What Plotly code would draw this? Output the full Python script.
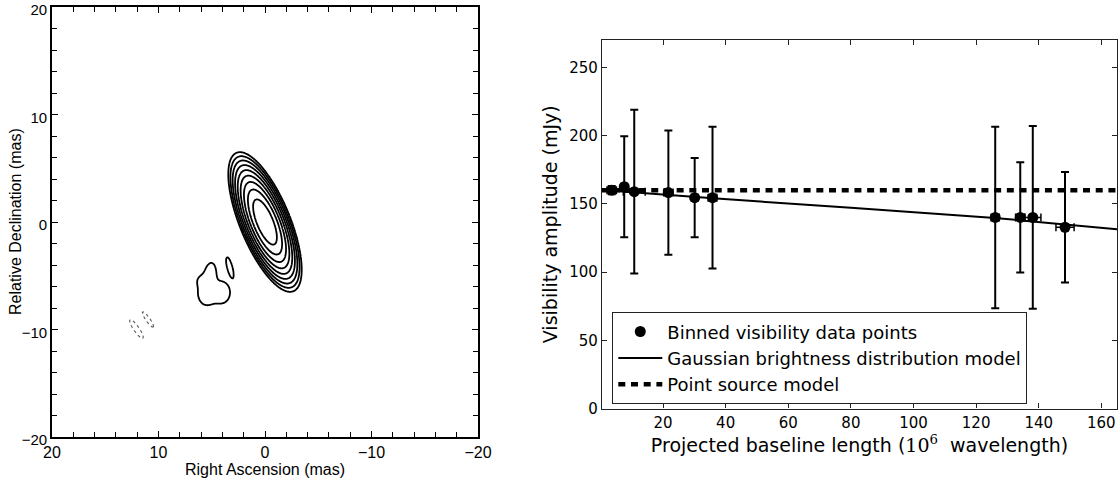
import numpy as np
import plotly.graph_objects as go

# ---------------- Left panel: VLBI map (Gaussian model components) ----------------
# Main component (RA, Dec in mas; amplitude in units of the lowest contour level)
main_ra, main_dec, main_amp = 0.0, 0.0, 490.0
main_smaj, main_smin, main_pa = 1.98, 0.668, 22.6
contour_levels = [1, 2, 4, 8, 16, 32, 64, 128, 256]   # multiples of lowest level

# Faint components, drawn only at the lowest positive (or negative) level
faint_ra = [4.1, 5.45, 5.2, 5.95, 3.3, 12.07, 10.99]
faint_dec = [-6.55, -6.65, -5.2, -5.5, -4.25, -9.95, -9.07]
faint_amp = [3.0, 3.0, 3.0, 1.5, 4.0, -1.6, -1.6]
faint_smaj = [0.68, 0.7, 0.95, 0.4, 0.6, 1.08, 0.88]
faint_smin = [0.55, 0.55, 0.4, 0.35, 0.15, 0.26, 0.2]
faint_pa = [0.0, 0.0, -8.0, 0.0, 15.0, 35.0, 35.0]

# ---------------- Right panel: visibility amplitude vs baseline ----------------
baseline = [3.6, 7.6, 10.8, 21.7, 30.1, 35.8, 126.1, 134.1, 138.1, 148.4]
baseline_err = [1.5, 1.0, 3.5, 1.5, 1.0, 1.4, 1.3, 1.5, 2.6, 2.9]
amplitude = [160.0, 162.5, 158.9, 158.2, 154.5, 154.5, 140.0, 140.0, 140.0, 132.8]
amplitude_err = [3.0, 37.0, 60.0, 45.5, 29.0, 52.0, 66.5, 40.4, 67.0, 40.5]
model_x = [0, 36, 80, 126, 165]
gauss_model_y = [160.2, 154.0, 147.0, 139.6, 131.3]
point_model_y = [160.0, 160.0, 160.0, 160.0, 160.0]

W, H = 1120, 483

ra = np.arange(-9.0, 16.0001, 0.05)
dec = np.arange(-14.0, 10.0001, 0.05)
RA, DEC = np.meshgrid(ra, dec)


def gauss(r0, d0, a, sj, sn, pa):
    th = np.deg2rad(pa)
    dx, dy = RA - r0, DEC - d0
    p = dx * np.sin(th) + dy * np.cos(th)
    q = dx * np.cos(th) - dy * np.sin(th)
    return a * np.exp(-0.5 * (p ** 2 / sj ** 2 + q ** 2 / sn ** 2))


main_field = gauss(main_ra, main_dec, main_amp, main_smaj, main_smin, main_pa)
faint_field = np.zeros_like(RA)
for args in zip(faint_ra, faint_dec, faint_amp, faint_smaj, faint_smin, faint_pa):
    faint_field += gauss(*args)

z_main = np.round(np.log2(np.clip(main_field, 1e-3, None)), 4)
z_faint = np.round(faint_field, 4)
z_neg = np.round(-faint_field, 4)
lv = np.log2(contour_levels)

black = [[0, "black"], [1, "black"]]
fig = go.Figure()
fig.add_trace(go.Contour(
    x=ra, y=dec, z=z_main, xaxis="x", yaxis="y",
    contours=dict(start=lv[0], end=lv[-1], size=1, coloring="lines"),
    colorscale=black, showscale=False,
    line=dict(width=1.8, smoothing=1.0), hoverinfo="skip", showlegend=False))
fig.add_trace(go.Contour(
    x=ra, y=dec, z=z_faint, xaxis="x", yaxis="y",
    contours=dict(start=contour_levels[0], end=contour_levels[0], size=1, coloring="lines"),
    colorscale=black, showscale=False,
    line=dict(width=1.8, smoothing=1.0), hoverinfo="skip", showlegend=False))
fig.add_trace(go.Contour(
    x=ra, y=dec, z=z_neg, xaxis="x", yaxis="y",
    contours=dict(start=contour_levels[0], end=contour_levels[0], size=1, coloring="lines"),
    colorscale=[[0, "#555"], [1, "#555"]], showscale=False,
    line=dict(width=1.1, dash="dot", smoothing=1.0), hoverinfo="skip", showlegend=False))

# right panel traces
fig.add_trace(go.Scatter(
    x=model_x, y=gauss_model_y, mode="lines", xaxis="x2", yaxis="y2",
    line=dict(color="black", width=2), name="Gaussian brightness distribution model",
    legendrank=2))
fig.add_trace(go.Scatter(
    x=model_x, y=point_model_y, mode="lines", xaxis="x2", yaxis="y2",
    line=dict(color="black", width=4.5, dash="7px,5.7px"), name="Point source model",
    legendrank=3))
fig.add_trace(go.Scatter(
    x=baseline, y=amplitude, mode="markers", xaxis="x2", yaxis="y2",
    marker=dict(color="black", size=11, symbol="circle"),
    error_y=dict(type="data", array=amplitude_err, color="black", thickness=2, width=4),
    error_x=dict(type="data", array=baseline_err, color="black", thickness=1.5, width=4),
    name="Binned visibility data points", legendrank=1))

lfont = "Liberation Sans, Arial, Helvetica, sans-serif"
rfont = "DejaVu Sans, Verdana, sans-serif"

fig.update_layout(
    width=W, height=H, margin=dict(l=0, r=0, t=0, b=0),
    paper_bgcolor="white", plot_bgcolor="white",
    xaxis=dict(domain=[52 / W, 478 / W], range=[20, -20], anchor="y",
               tickmode="linear", tick0=0, dtick=10, ticks="inside", ticklen=6, tickwidth=1.3,
               minor=dict(tickmode="linear", tick0=0, dtick=2, ticks="inside", ticklen=5, tickwidth=1.3,
                          tickcolor="black"),
               showline=True, linewidth=1.6, linecolor="black", mirror="ticks", tickcolor="black",
               showgrid=False, zeroline=False, automargin=False, ticklabeloverflow="allow",
               tickfont=dict(family=lfont, size=16, color="black"),
               title=dict(text="Right Ascension (mas)", standoff=4,
                          font=dict(family=lfont, size=16, color="black"))),
    yaxis=dict(domain=[1 - 437 / H, 1 - 7 / H], range=[-20, 20], anchor="x",
               tickmode="linear", tick0=0, dtick=10, ticks="inside", ticklen=6, tickwidth=1.3,
               minor=dict(tickmode="linear", tick0=0, dtick=2, ticks="inside", ticklen=5, tickwidth=1.3,
                          tickcolor="black"),
               showline=True, linewidth=1.6, linecolor="black", mirror="ticks", tickcolor="black",
               showgrid=False, zeroline=False, automargin=False, ticklabeloverflow="allow",
               ticklabelshift=3,
               tickfont=dict(family=lfont, size=15, color="black")),
    xaxis2=dict(domain=[602 / W, 1117 / W], range=[0.5, 165], anchor="y2",
                tickmode="array", tickvals=[20, 40, 60, 80, 100, 120, 140, 160],
                ticks="inside", ticklen=5, tickwidth=1.2, tickcolor="#222",
                showline=True, linewidth=1.3, linecolor="#222", mirror="ticks",
                showgrid=False, zeroline=False, automargin=False, ticklabeloverflow="allow",
                tickfont=dict(family=rfont, size=15, color="black"),
                title=dict(text="Projected baseline length (<span style='font-family:DejaVu Serif'>10<sup>6</sup></span>\u00a0\u00a0wavelength)",
                           standoff=6, font=dict(family=rfont, size=19, color="black"))),
    yaxis2=dict(domain=[1 - 408.5 / H, 1 - 40 / H], range=[0, 270], anchor="x2",
                tickmode="array", tickvals=[0, 50, 100, 150, 200, 250],
                ticks="inside", ticklen=5, tickwidth=1.2, tickcolor="#222",
                showline=True, linewidth=1.3, linecolor="#222", mirror="ticks",
                showgrid=False, zeroline=False, automargin=False, ticklabeloverflow="allow",
                tickfont=dict(family=rfont, size=15, color="black"),
                title=dict(text="Visibility amplitude (mJy)", standoff=6,
                           font=dict(family=rfont, size=19, color="black"))),
    annotations=[dict(text="Relative Declination (mas)", textangle=-90,
                      xref="paper", yref="paper", x=15 / W, y=1 - 222 / H,
                      xanchor="center", yanchor="middle", showarrow=False,
                      font=dict(family=lfont, size=16, color="black"))],
    showlegend=True,
    legend=dict(x=612 / W, y=1 - 312 / H, xanchor="left", yanchor="top",
                bgcolor="white", bordercolor="#222", borderwidth=1.3,
                font=dict(family=rfont, size=18, color="black"),
                itemwidth=44, tracegroupgap=0),
)

fig.write_html("out.html", config={"displayModeBar": False},
               post_script="document.body.style.margin='0';document.body.style.overflow='hidden';")
